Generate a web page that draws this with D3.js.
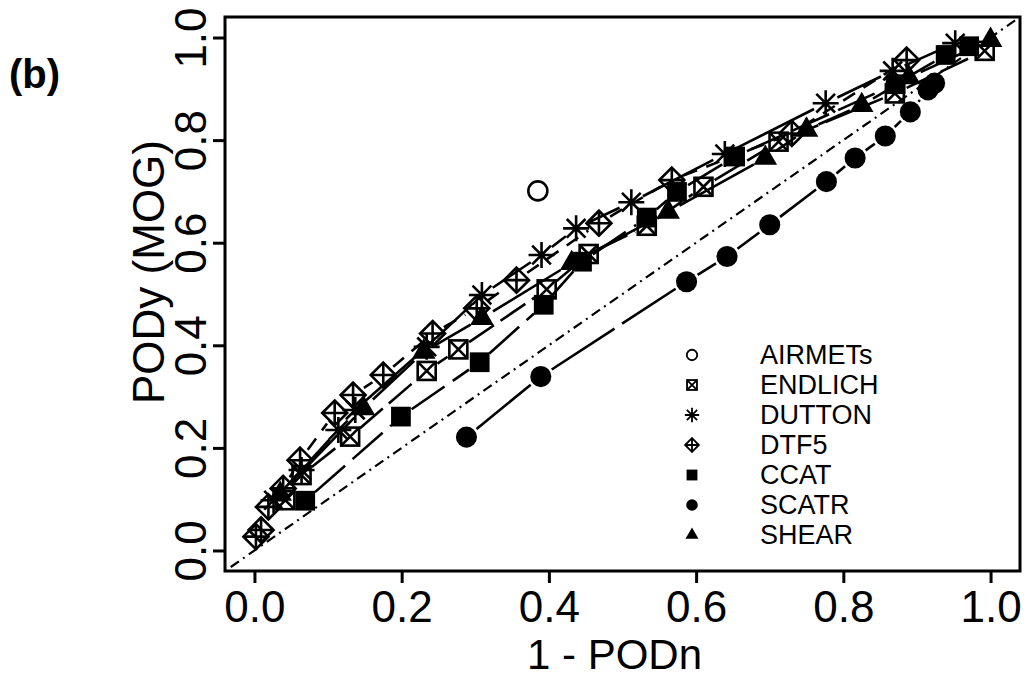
<!DOCTYPE html>
<html>
<head>
<meta charset="utf-8">
<script src="https://cdn.jsdelivr.net/npm/d3@7"></script>
<style>
  body { margin: 0; background: #fff; }
  text { font-family: "Liberation Sans", Arial, sans-serif; fill: #000; }
</style>
</head>
<body>
<svg id="chart" width="1028" height="678"></svg>
<script>
// values (x = 1 - PODn, y = PODy)
const seriesNames = ["AIRMETs", "ENDLICH", "DUTTON", "DTF5", "CCAT", "SCATR", "SHEAR"];

const airmetsX = [0.385];
const airmetsY = [0.701];

const endlichX = [0.042, 0.064, 0.130, 0.234, 0.277, 0.397, 0.454, 0.533, 0.610, 0.712, 0.870, 0.992];
const endlichY = [0.098, 0.147, 0.222, 0.350, 0.392, 0.509, 0.578, 0.633, 0.709, 0.797, 0.891, 0.974];

const duttonX = [0.026, 0.064, 0.114, 0.137, 0.234, 0.309, 0.390, 0.437, 0.512, 0.639, 0.776, 0.867, 0.952];
const duttonY = [0.098, 0.157, 0.235, 0.274, 0.397, 0.498, 0.576, 0.628, 0.679, 0.773, 0.872, 0.935, 0.989];

const dtf5X = [0.002, 0.009, 0.019, 0.039, 0.062, 0.109, 0.134, 0.175, 0.242, 0.302, 0.356, 0.468, 0.567, 0.730, 0.886];
const dtf5Y = [0.027, 0.040, 0.085, 0.121, 0.176, 0.268, 0.303, 0.342, 0.423, 0.472, 0.527, 0.638, 0.722, 0.813, 0.956];

const ccatX = [0.069, 0.199, 0.306, 0.393, 0.445, 0.533, 0.574, 0.653, 0.871, 0.939, 0.971];
const ccatY = [0.097, 0.261, 0.367, 0.479, 0.563, 0.649, 0.699, 0.768, 0.909, 0.966, 0.983];

const scatrX = [0.288, 0.389, 0.587, 0.642, 0.700, 0.777, 0.816, 0.857, 0.891, 0.915, 0.924];
const scatrY = [0.221, 0.339, 0.524, 0.573, 0.635, 0.719, 0.765, 0.808, 0.855, 0.898, 0.911];

const shearX = [0.035, 0.148, 0.230, 0.309, 0.431, 0.562, 0.694, 0.750, 0.825, 0.889, 1.000];
const shearY = [0.110, 0.277, 0.387, 0.453, 0.560, 0.660, 0.765, 0.820, 0.868, 0.922, 0.995];

const xTicks = [0.0, 0.2, 0.4, 0.6, 0.8, 1.0];
const yTicks = [0.0, 0.2, 0.4, 0.6, 0.8, 1.0];

const svg = d3.select("#chart");
const margin = { left: 225, top: 17, right: 8, bottom: 107 };
const width = 1028 - margin.left - margin.right;
const height = 678 - margin.top - margin.bottom;

const x = d3.scaleLinear().domain([-0.04, 1.04]).range([margin.left, margin.left + width]);
const y = d3.scaleLinear().domain([-0.04, 1.04]).range([margin.top + height, margin.top]);

// marker shapes, s = scale factor
function drawMarker(g, kind, px, py, s) {
  const m = g.append("g").attr("transform", `translate(${px},${py})`);
  const sw = 2.6 * Math.max(s, 0.7);
  if (kind === "AIRMETs") {
    m.append("circle").attr("r", 9.5 * s).attr("fill", "none").attr("stroke", "#000").attr("stroke-width", sw);
  } else if (kind === "ENDLICH") {
    const h = 9 * s;
    m.append("rect").attr("x", -h).attr("y", -h).attr("width", 2 * h).attr("height", 2 * h)
      .attr("fill", "none").attr("stroke", "#000").attr("stroke-width", sw);
    m.append("path").attr("d", `M${-h},${-h}L${h},${h}M${-h},${h}L${h},${-h}`)
      .attr("stroke", "#000").attr("stroke-width", sw);
  } else if (kind === "DUTTON") {
    const r = 13 * s, d = r * 0.72;
    m.append("path").attr("d", `M${-r},0L${r},0M0,${-r}L0,${r}M${-d},${-d}L${d},${d}M${-d},${d}L${d},${-d}`)
      .attr("stroke", "#000").attr("stroke-width", sw).attr("fill", "none");
  } else if (kind === "DTF5") {
    const r = 12.5 * s;
    m.append("path").attr("d", `M0,${-r}L${r},0L0,${r}L${-r},0Z`)
      .attr("fill", "none").attr("stroke", "#000").attr("stroke-width", sw);
    m.append("path").attr("d", `M${-r},0L${r},0M0,${-r}L0,${r}`)
      .attr("stroke", "#000").attr("stroke-width", sw);
  } else if (kind === "CCAT") {
    m.append("path").attr("d", d3.symbol(d3.symbolSquare, 390 * s * s)()).attr("fill", "#000");
  } else if (kind === "SCATR") {
    m.append("path").attr("d", d3.symbol(d3.symbolCircle, 350 * s * s)()).attr("fill", "#000");
  } else if (kind === "SHEAR") {
    m.append("path").attr("d", d3.symbol(d3.symbolTriangle, 240 * s * s)()).attr("fill", "#000");
  }
}

const series = [
  { name: "AIRMETs", xs: airmetsX, ys: airmetsY, dash: null },
  { name: "ENDLICH", xs: endlichX, ys: endlichY, dash: "30,8" },
  { name: "DUTTON", xs: duttonX, ys: duttonY, dash: "none" },
  { name: "DTF5", xs: dtf5X, ys: dtf5Y, dash: "14,10" },
  { name: "CCAT", xs: ccatX, ys: ccatY, dash: "40,10" },
  { name: "SCATR", xs: scatrX, ys: scatrY, dash: "75,9" },
  { name: "SHEAR", xs: shearX, ys: shearY, dash: "none" }
];

const plot = svg.append("g");

// 1:1 reference line (dot-dash)
plot.append("line")
  .attr("x1", x(-0.04)).attr("y1", y(-0.04))
  .attr("x2", x(1.04)).attr("y2", y(1.04))
  .attr("stroke", "#000").attr("stroke-width", 2.2)
  .attr("stroke-dasharray", "2,5,10,5");

// type "b": segments with a gap around each point
const gap = 13;
series.forEach(s => {
  if (!s.dash) return;
  for (let i = 1; i < s.xs.length; i++) {
    const x1 = x(s.xs[i - 1]), y1 = y(s.ys[i - 1]);
    const x2 = x(s.xs[i]), y2 = y(s.ys[i]);
    const d = Math.hypot(x2 - x1, y2 - y1);
    if (d <= 2 * gap) continue;
    const ux = (x2 - x1) / d, uy = (y2 - y1) / d;
    plot.append("line")
      .attr("x1", x1 + ux * gap).attr("y1", y1 + uy * gap)
      .attr("x2", x2 - ux * gap).attr("y2", y2 - uy * gap)
      .attr("stroke", "#000").attr("stroke-width", 2.6)
      .attr("stroke-dasharray", s.dash);
  }
});

series.forEach(s => {
  s.xs.forEach((v, i) => drawMarker(plot, s.name, x(v), y(s.ys[i]), 1));
});

// box
svg.append("rect")
  .attr("x", margin.left).attr("y", margin.top)
  .attr("width", width).attr("height", height)
  .attr("fill", "none").attr("stroke", "#000").attr("stroke-width", 3);

// axes
const xAxis = svg.append("g")
  .attr("transform", `translate(0,${margin.top + height})`)
  .call(d3.axisBottom(x).tickValues(xTicks).tickFormat(d3.format(".1f")).tickSize(12).tickPadding(8));
xAxis.select(".domain").remove();
xAxis.selectAll("line").attr("stroke", "#000").attr("stroke-width", 3);
xAxis.selectAll("text").style("font-size", "44px").attr("fill", "#000");

const yAxis = svg.append("g")
  .attr("transform", `translate(${margin.left},0)`)
  .call(d3.axisLeft(y).tickValues(yTicks).tickFormat(d3.format(".1f")).tickSize(12));
yAxis.select(".domain").remove();
yAxis.selectAll("line").attr("stroke", "#000").attr("stroke-width", 3);
yAxis.selectAll("text")
  .style("font-size", "44px").attr("fill", "#000")
  .attr("x", null).attr("dy", null)
  .attr("text-anchor", "middle")
  .attr("transform", "translate(-19,0) rotate(-90)");

// axis titles
svg.append("text")
  .attr("x", margin.left + width / 2 - 8).attr("y", 669)
  .attr("text-anchor", "middle").style("font-size", "42px")
  .text("1 - PODn");

svg.append("text")
  .attr("transform", `translate(164,${margin.top + height / 2 - 22}) rotate(-90)`)
  .attr("text-anchor", "middle").style("font-size", "44px")
  .text("PODy (MOG)");

svg.append("text")
  .attr("x", 9).attr("y", 88)
  .style("font-size", "40px").style("font-weight", "bold")
  .text("(b)");

// legend
const legend = svg.append("g");
const legY = d3.scaleBand().domain(seriesNames).range([340, 550]);
seriesNames.forEach(n => {
  const cy = legY(n) + legY.bandwidth() / 2;
  drawMarker(legend, n, 692, cy, 0.55);
  legend.append("text")
    .attr("x", 760).attr("y", cy).attr("dy", "0.35em")
    .style("font-size", "27px")
    .text(n);
});
</script>
</body>
</html>
